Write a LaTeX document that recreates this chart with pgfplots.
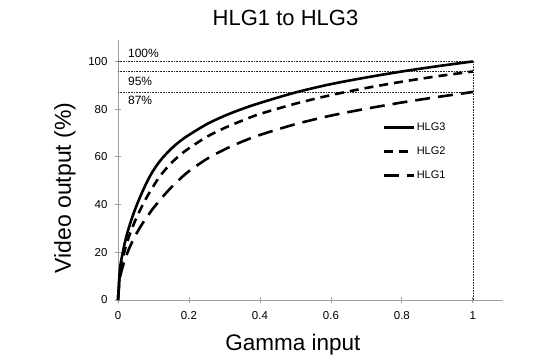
\documentclass[border=0pt]{standalone}
\usepackage{fontspec}
\setmainfont{Liberation Sans}
\setsansfont{Liberation Sans}
\usepackage{pgfplots}
\pgfplotsset{compat=1.18}
\begin{document}
\begin{tikzpicture}
\useasboundingbox (-118pt,-61pt) rectangle (419pt,300pt);
\begin{axis}[
  at={(0pt,0pt)}, anchor=south west,
  scale only axis, width=385pt, height=260pt,
  xmin=0, xmax=1.085, ymin=0, ymax=109,
  axis x line=bottom, axis y line=left,
  axis line style={-, draw=gray!75, line width=0.8pt},
  xtick={0,0.2,0.4,0.6,0.8,1},
  xticklabels={0,0.2,0.4,0.6,0.8,1},
  ytick={0,20,40,60,80,100},
  tick align=center, major tick length=6pt,
  every tick/.style={draw=gray!75, line width=0.8pt},
  /pgf/number format/assume math mode=true,
  tick label style={font=\fontsize{11.5}{13}\selectfont},
  yticklabel style={xshift=-4pt},
  xticklabel style={yshift=-5pt},
  legend cell align=left,
  legend style={at={(axis cs:0.744,75.2)}, anchor=north west, draw=none, fill=none,
    font=\fontsize{11}{13}\selectfont, row sep=11pt, inner sep=0pt},
  legend image code/.code={\draw[#1] (0pt,0pt) -- (30pt,0pt);},
  clip=false,
]
% reference lines
\addplot[forget plot, black!85, line width=0.55pt, dash pattern=on 0.7pt off 0.9pt] coordinates {(0,100) (1,100)};
\addplot[forget plot, black!85, line width=0.55pt, dash pattern=on 0.7pt off 0.9pt] coordinates {(0,95.8) (1,95.8)};
\addplot[forget plot, black!85, line width=0.55pt, dash pattern=on 0.7pt off 0.9pt] coordinates {(0,87.2) (1,87.2)};
\addplot[forget plot, black!85, line width=0.55pt, dash pattern=on 0.7pt off 0.9pt] coordinates {(1,0) (1,100)};
% HLG3
\addplot[black, line width=2.6pt, smooth] coordinates {
(0,0) (0.005,12.2) (0.01,17.3) (0.02,24.5) (0.03,30.0) (0.04,34.6) (0.05,38.7) (0.06,42.4) (0.07,45.8) (0.0833,50.0)
(0.09,51.9) (0.1,54.4) (0.11,56.6) (0.125,59.5) (0.15,63.4) (0.175,66.6) (0.2,69.2) (0.25,73.7) (0.3,77.2) (0.35,80.1)
(0.4,82.6) (0.5,87.0) (0.6,90.5) (0.7,93.3) (0.8,95.8) (0.9,98.0) (1.0,100.0)};
\addlegendentry{HLG3}
% HLG2
\addplot[black, line width=2.6pt, smooth, dash pattern=on 9pt off 6pt] coordinates {
(0,0) (0.005,10.7) (0.01,15.1) (0.02,21.4) (0.03,26.2) (0.04,30.2) (0.05,33.8) (0.06,37.0) (0.07,40.0) (0.08,42.8)
(0.09,45.4) (0.1,47.8) (0.1094,50.0) (0.125,53.2) (0.15,57.4) (0.175,60.8) (0.2,63.6) (0.25,68.4) (0.3,72.1) (0.35,75.2)
(0.4,78.0) (0.5,82.3) (0.6,85.9) (0.7,88.9) (0.8,91.5) (0.9,93.8) (1.0,95.8)};
\addlegendentry{HLG2}
% HLG1
\addplot[black, line width=2.6pt, smooth, dash pattern=on 15pt off 8pt] coordinates {
(0,0) (0.005,8.6) (0.01,12.2) (0.02,17.2) (0.03,21.1) (0.04,24.4) (0.05,27.3) (0.06,29.9) (0.07,32.3) (0.08,34.5)
(0.09,36.6) (0.1,38.6) (0.11,40.4) (0.125,43.1) (0.15,47.2) (0.175,50.8) (0.2,54.0) (0.25,59.1) (0.3,63.1) (0.35,66.4)
(0.4,69.2) (0.5,73.7) (0.6,77.3) (0.7,80.2) (0.8,82.8) (0.9,85.1) (1.0,87.2)};
\addlegendentry{HLG1}
\node[anchor=base west, font=\fontsize{12}{14}\selectfont, inner sep=0pt] at (axis cs:0.028,101.5) {100\%};
\node[anchor=base west, font=\fontsize{12}{14}\selectfont, inner sep=0pt] at (axis cs:0.028,90.1) {95\%};
\node[anchor=base west, font=\fontsize{12}{14}\selectfont, inner sep=0pt] at (axis cs:0.028,81.8) {87\%};
\end{axis}
\node[anchor=base, font=\fontsize{22}{26}\selectfont, inner sep=0pt] at (167.5pt,274pt) {HLG1 to HLG3};
\node[anchor=base, font=\fontsize{22.5}{26}\selectfont, inner sep=0pt] at (175pt,-50pt) {Gamma input};
\node[anchor=center, rotate=90, font=\fontsize{23}{26}\selectfont, inner sep=0pt] at (-53pt,112pt) {Video output (\%)};
\end{tikzpicture}
\end{document}
